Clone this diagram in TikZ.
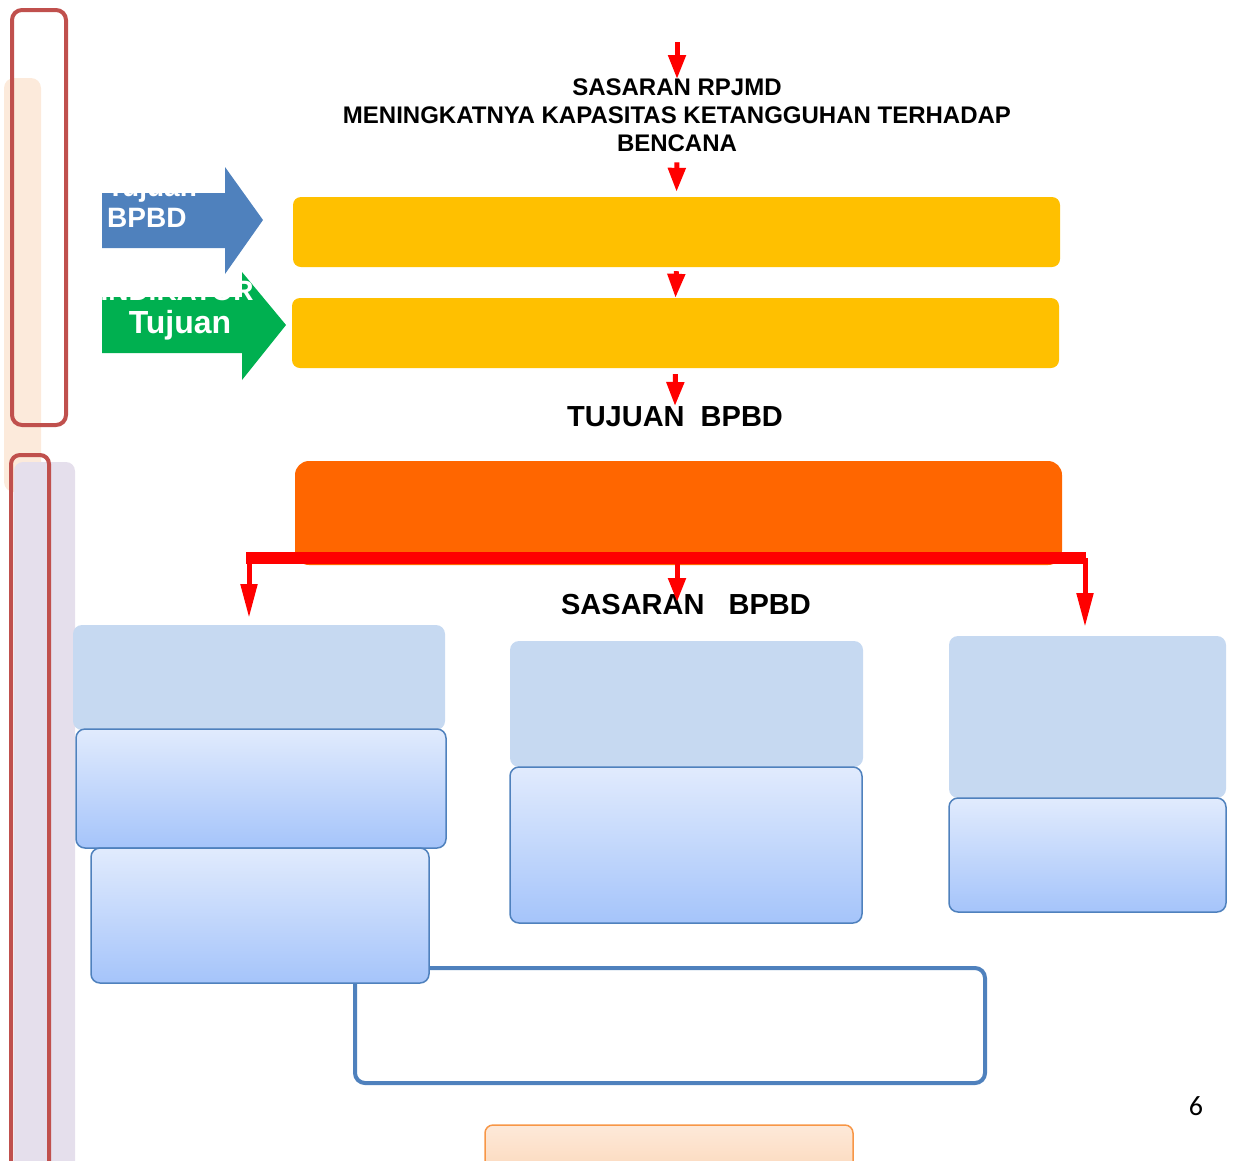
\documentclass[tikz,border=0pt]{standalone}
\usepackage{fontspec}
\setmainfont{Liberation Sans}
\newfontfamily\pagenofont{Carlito}
\usetikzlibrary{arrows.meta}
\definecolor{gold}{HTML}{FFC000}
\definecolor{orangebox}{HTML}{FF6600}
\definecolor{bluearr}{HTML}{4F81BD}
\definecolor{greenarr}{HTML}{00B050}
\definecolor{paleblue}{HTML}{C6D9F1}
\definecolor{gradtop}{HTML}{E1EBFD}
\definecolor{gradbot}{HTML}{A5C4FA}
\definecolor{redframe}{HTML}{C0504D}
\definecolor{peachbg}{HTML}{FCEADB}
\definecolor{lavender}{HTML}{E5DFEC}
\definecolor{peachtop}{HTML}{FDE9D9}
\definecolor{peachbot}{HTML}{FCD5B5}
\definecolor{peachline}{HTML}{F79646}
\begin{document}
\begin{tikzpicture}[x=1pt,y=-1pt,
    redarrow/.style={draw=red,line width=5pt,-{Triangle[width=17pt,length=24pt]}},
    droparrow/.style={draw=red,line width=5pt,-{Triangle[width=16pt,length=34pt]}},
    goldbox/.style={fill=gold,rounded corners=8pt,minimum width=767pt,minimum height=70pt},
    palebox/.style={fill=paleblue,rounded corners=9pt,inner sep=0pt},
    gradbox/.style={draw=bluearr,line width=1.5pt,top color=gradtop,bottom color=gradbot,rounded corners=9pt,inner sep=0pt},
    headtext/.style={font=\bfseries\fontsize{24}{28}\selectfont,align=center,inner sep=0pt},
    bigtext/.style={font=\bfseries\fontsize{29}{34}\selectfont,inner sep=0pt},
    arrowtext/.style={text=white,font=\bfseries\fontsize{28}{32}\selectfont,inner sep=0pt}]
    \useasboundingbox (0,0) rectangle (1234,1160);
    % left side bands
    \fill[peachbg,rounded corners=10pt] (4,78) rectangle (41,492);
    \fill[lavender,rounded corners=9pt] (14,462) rectangle (75,1180);
    \draw[redframe,line width=4pt,rounded corners=10pt] (12,10) rectangle (66,425);
    \draw[redframe,line width=4pt,rounded corners=9pt] (11,455) rectangle (49,1190);
    % arrows with labels
    \fill[bluearr] (102,193) -- (225,193) -- (225,167) -- (263,220) -- (225,274) -- (225,248) -- (102,248) -- cycle;
    \node[arrowtext,anchor=base west] (tujuanTop) at (107,196) {Tujuan};
    \node[arrowtext,anchor=base west] (bpbdLbl) at (107,227) {BPBD};
    \fill[greenarr] (102,297) -- (242,297) -- (242,272) -- (286,325) -- (242,380) -- (242,353) -- (102,353) -- cycle;
    \node[arrowtext,anchor=base] (indikatorLbl) at (177,300) {INDIKATOR};
    \node[arrowtext,font=\bfseries\fontsize{32}{36}\selectfont,anchor=base] (tujuanLbl) at (180,333) {Tujuan};
    % top column
    \coordinate (entry) at (677,42);
    \node[headtext,anchor=north] (rpjmd) at (677,79)
        {SASARAN RPJMD\\MENINGKATNYA KAPASITAS KETANGGUHAN TERHADAP\\BENCANA};
    \node[goldbox] (gold1) at (676.5,232) {};
    \node[goldbox] (gold2) at (675.5,333) {};
    \node[bigtext,anchor=north] (tujuan) at (675,406) {TUJUAN\ \ BPBD};
    \node[fill=orangebox,rounded corners=14pt,minimum width=767pt,minimum height=104pt] (orange) at (678.5,513) {};
    \draw[redarrow] (entry) -- (rpjmd.north);
    \draw[redarrow,shorten <=10pt,shorten >=5pt] (rpjmd.south) -- (gold1.north);
    \draw[redarrow,shorten <=4pt] (gold1.south) -- (gold2.north);
    \draw[redarrow,shorten <=6pt] (gold2.south) -- (tujuan.north);
    % branch to sasaran
    \coordinate (brL) at (246,558);
    \coordinate (brR) at (1086,558);
    \coordinate (tipL) at (249,618);
    \coordinate (tipM) at (677,602);
    \coordinate (tipR) at (1085,627);
    \draw[red,line width=12pt] (brL) -- (brR);
    \draw[droparrow] (tipL |- brL) -- (tipL);
    \draw[droparrow] (tipR |- brR) -- (tipR);
    \node[bigtext] (sasaran) at (686,605) {SASARAN\ \ \ BPBD};
    \draw[redarrow] (tipM |- brL) -- (tipM);
    % sasaran boxes
    \node[draw=bluearr,line width=4pt,rounded corners=10pt,fill=white,minimum width=630pt,minimum height=115pt] (outline) at (670,1025.5) {};
    \node[palebox,minimum width=372pt,minimum height=105pt] (left1) at (259,677.5) {};
    \node[gradbox,minimum width=370pt,minimum height=119pt] (left2) at (261,788.5) {};
    \node[gradbox,minimum width=338pt,minimum height=135pt] (left3) at (260,915.5) {};
    \node[palebox,minimum width=353pt,minimum height=126pt] (mid1) at (686.5,704) {};
    \node[gradbox,minimum width=352pt,minimum height=156pt] (mid2) at (686,845) {};
    \node[palebox,minimum width=277pt,minimum height=162pt] (right1) at (1087.5,717) {};
    \node[gradbox,minimum width=277pt,minimum height=114pt] (right2) at (1087.5,855) {};
    \node[draw=peachline,line width=1.5pt,top color=peachtop,bottom color=peachbot,rounded corners=8pt,minimum width=368pt,minimum height=60pt] (peach) at (669,1155) {};
    % page number
    \node[font=\pagenofont\fontsize{28}{32}\selectfont] (pageno) at (1196,1106) {6};
\end{tikzpicture}
\end{document}
